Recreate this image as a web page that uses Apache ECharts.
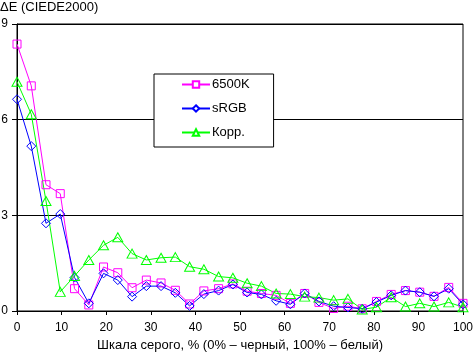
<!DOCTYPE html>
<html>
<head>
<meta charset="utf-8">
<script src="https://cdn.jsdelivr.net/npm/echarts@6/dist/echarts.min.js"></script>
<style>
html,body{margin:0;padding:0;background:#fff;}
#chart{width:473px;height:353px;}
</style>
</head>
<body>
<div id="chart"></div>
<script>
var xLevels = [0, 3.2, 6.5, 9.7, 12.9, 16.1, 19.4, 22.6, 25.8, 29.0, 32.3, 35.5, 38.7, 41.9, 45.2, 48.4,
  51.6, 54.8, 58.1, 61.3, 64.5, 67.7, 71.0, 74.2, 77.4, 80.6, 83.9, 87.1, 90.3, 93.5, 96.8, 100];
var s6500K = [8.37, 7.06, 3.96, 3.68, 0.70, 0.19, 1.38, 1.20, 0.73, 0.97, 0.88, 0.65, 0.22, 0.63, 0.70, 0.85,
  0.62, 0.55, 0.49, 0.24, 0.55, 0.27, 0.08, 0.15, 0.07, 0.30, 0.52, 0.64, 0.59, 0.46, 0.74, 0.24];
var sRGB = [6.64, 5.17, 2.75, 3.04, 1.05, 0.24, 1.18, 0.97, 0.45, 0.78, 0.78, 0.57, 0.16, 0.53, 0.64, 0.83,
  0.58, 0.52, 0.32, 0.21, 0.55, 0.30, 0.15, 0.11, 0.07, 0.28, 0.49, 0.64, 0.59, 0.46, 0.70, 0.21];
var sKorr = [7.19, 6.17, 3.45, 0.60, 1.10, 1.60, 2.06, 2.31, 1.80, 1.60, 1.67, 1.69, 1.39, 1.31, 1.08, 1.04,
  0.87, 0.78, 0.55, 0.53, 0.45, 0.42, 0.34, 0.38, 0.05, 0.12, 0.43, 0.14, 0.24, 0.14, 0.27, 0.12];
var seriesNames = ['6500K', 'sRGB', 'Корр.'];
var yTitle = 'ΔE (CIEDE2000)';
var xTitle = 'Шкала серого, % (0% – черный, 100% – белый)';

function pairs(vals) { return vals.map(function (v, i) { return [xLevels[i], v]; }); }
var FONT = '"Liberation Sans", Arial, sans-serif';

function mk(name, vals, color, symbol, size) {
  return {
    name: name, type: 'line', data: pairs(vals),
    symbol: symbol, symbolSize: size, showSymbol: true,
    lineStyle: { color: color, width: 1 },
    itemStyle: { color: 'rgba(255,255,255,0)', borderColor: color, borderWidth: 1 },
    emphasis: { disabled: true },
    animation: false
  };
}

var chart = echarts.init(document.getElementById('chart'), null, { renderer: 'canvas' });
chart.setOption({
  backgroundColor: '#fff',
  animation: false,
  textStyle: { fontFamily: FONT, color: '#000' },
  grid: {
    left: 17, right: 10, top: 24, bottom: 42,
    containLabel: false, outerBoundsMode: 'none',
    show: true, borderColor: '#000', borderWidth: 1, backgroundColor: 'transparent'
  },
  graphic: [{
    type: 'text', left: 0, top: 1,
    style: { text: yTitle, font: '13px ' + FONT, fill: '#000' }
  }],
  legend: {
    orient: 'vertical', left: 154, top: 74,
    padding: [3, 24, 7, 27], itemGap: 9,
    itemWidth: 28, itemHeight: 8,
    backgroundColor: '#fff', borderColor: '#000', borderWidth: 1,
    textStyle: { fontFamily: FONT, fontSize: 13, color: '#000', padding: [0, 0, 0, -3], lineHeight: 15 },
    itemStyle: { color: '#fff' },
    data: seriesNames
  },
  xAxis: {
    type: 'value', min: 0, max: 100, interval: 10,
    name: xTitle, nameLocation: 'middle', nameGap: 28,
    nameTextStyle: { fontFamily: FONT, fontSize: 13, color: '#000' },
    axisLine: { show: true, lineStyle: { color: '#000', width: 1 } },
    axisTick: { show: true, length: 4, lineStyle: { color: '#000' } },
    axisLabel: { fontFamily: FONT, fontSize: 12, color: '#000', margin: 11 },
    splitLine: { show: false }
  },
  yAxis: {
    type: 'value', min: 0, max: 9, interval: 3,
    axisLine: { show: true, lineStyle: { color: '#000', width: 1 } },
    axisTick: { show: true, length: 5, lineStyle: { color: '#000' } },
    axisLabel: { fontFamily: FONT, fontSize: 12, color: '#000', margin: 9 },
    splitLine: { show: true, lineStyle: { color: '#000', width: 1 } }
  },
  series: [
    mk(seriesNames[0], s6500K, '#ff00ff', 'rect', 8),
    mk(seriesNames[1], sRGB, '#0000ff', 'diamond', 9),
    mk(seriesNames[2], sKorr, '#00ff00', 'triangle', [10, 9])
  ]
});
</script>
</body>
</html>
